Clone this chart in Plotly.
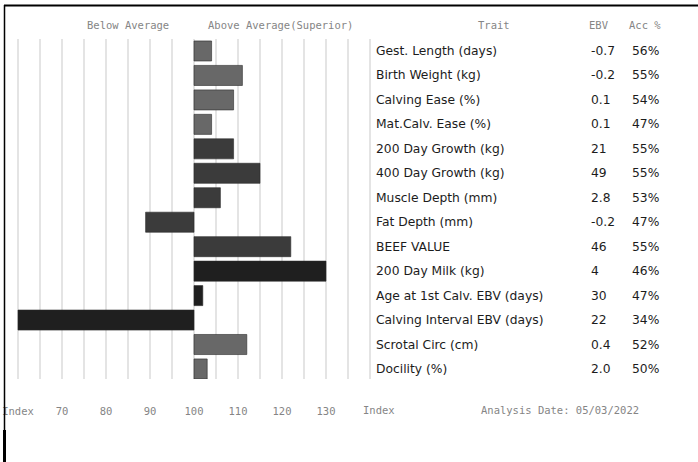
import plotly.graph_objects as go

# ---------------- data ----------------
traits = ["Gest. Length (days)", "Birth Weight (kg)", "Calving Ease (%)", "Mat.Calv. Ease (%)",
          "200 Day Growth (kg)", "400 Day Growth (kg)", "Muscle Depth (mm)", "Fat Depth (mm)",
          "BEEF VALUE", "200 Day Milk (kg)", "Age at 1st Calv. EBV (days)",
          "Calving Interval EBV (days)", "Scrotal Circ (cm)", "Docility (%)"]
index_values = [104, 111, 109, 104, 109, 115, 106, 89, 122, 130, 102, 60, 112, 103]
ebv = ["-0.7", "-0.2", "0.1", "0.1", "21", "49", "2.8", "-0.2", "46", "4", "30", "22", "0.4", "2.0"]
acc = ["56%", "55%", "54%", "47%", "55%", "55%", "53%", "47%", "55%", "46%", "47%", "34%", "52%", "50%"]
trait_group = ["calving", "calving", "calving", "calving",
               "growth", "growth", "growth", "growth", "growth",
               "maternal", "maternal", "maternal",
               "other", "other"]
tick_vals = [60, 70, 80, 90, 100, 110, 120, 130]
tick_text = ["Index", "70", "80", "90", "100", "110", "120", "130"]
analysis_date = "Analysis Date: 05/03/2022"

# ---------------- styling ----------------
W, H = 698, 462
TOP, BOTTOM = 39, 379          # plot area in pixels
group_colors = {"calving": "#686868", "growth": "#3b3b3b", "maternal": "#1f1f1f", "other": "#686868"}
bar_colors = [group_colors[g] for g in trait_group]

def px_x(p):
    return p / W

def px_y(p):
    return (BOTTOM - p) / (BOTTOM - TOP)

# full x range so that 100 sits at ~194px and 5 index units = 22px
ppu = 4.4
x0 = 100 - 194 / ppu
x1 = 100 + (W - 194) / ppu

fig = go.Figure()
fig.add_trace(go.Bar(
    y=traits,
    x=[v - 100 for v in index_values],
    base=100,
    orientation="h",
    marker=dict(color=bar_colors, line=dict(color="#2a2a2a", width=0.6)),
    hoverinfo="skip",
))

grid_vals = list(range(60, 141, 5))
grid_text = []
for g in grid_vals:
    grid_text.append(tick_text[tick_vals.index(g)] if g in tick_vals else "")

header_font = dict(family="DejaVu Sans Mono", size=10.5, color="#858585")
row_font = dict(family="DejaVu Sans", size=12.3, color="#1c1c1c")

fig.update_layout(
    width=W, height=H,
    margin=dict(l=0, r=0, t=TOP, b=H - BOTTOM, pad=0),
    plot_bgcolor="white", paper_bgcolor="white",
    showlegend=False,
    bargap=0.18,
    xaxis=dict(range=[x0, x1], tickvals=grid_vals, ticktext=grid_text,
               showgrid=True, gridcolor="#e4e4e4", gridwidth=1.6,
               zeroline=False, showline=False, ticks="",
               ticklabelstandoff=24,
               tickfont=header_font),
    yaxis=dict(categoryorder="array", categoryarray=traits,
               range=[13.41, -0.49], showticklabels=False, showgrid=False,
               zeroline=False, showline=False),
)

ann = []
ann.append(dict(x=px_x(128), y=px_y(25), xref="paper", yref="paper", text="Below Average",
                showarrow=False, font=header_font, xanchor="center", yanchor="middle"))
ann.append(dict(x=px_x(280), y=px_y(25), xref="paper", yref="paper", text="Above Average(Superior)",
                showarrow=False, font=header_font, xanchor="center", yanchor="middle"))
ann.append(dict(x=px_x(494), y=px_y(25), xref="paper", yref="paper", text="Trait",
                showarrow=False, font=header_font, xanchor="center", yanchor="middle"))
ann.append(dict(x=px_x(587), y=px_y(25), xref="paper", yref="paper", text="EBV",
                showarrow=False, font=header_font, xanchor="left", yanchor="middle"))
ann.append(dict(x=px_x(627), y=px_y(25), xref="paper", yref="paper", text="Acc %",
                showarrow=False, font=header_font, xanchor="left", yanchor="middle"))
for t, e, a in zip(traits, ebv, acc):
    ann.append(dict(x=px_x(374), y=t, xref="paper", yref="y", text=t, showarrow=False,
                    font=row_font, xanchor="left", yanchor="middle"))
    ann.append(dict(x=px_x(589), y=t, xref="paper", yref="y", text=e, showarrow=False,
                    font=row_font, xanchor="left", yanchor="middle"))
    ann.append(dict(x=px_x(630), y=t, xref="paper", yref="y", text=a, showarrow=False,
                    font=row_font, xanchor="left", yanchor="middle"))
ann.append(dict(x=px_x(379), y=px_y(410), xref="paper", yref="paper", text="Index",
                showarrow=False, font=header_font, xanchor="center", yanchor="middle"))
ann.append(dict(x=px_x(560), y=px_y(410), xref="paper", yref="paper", text=analysis_date,
                showarrow=False, font=header_font, xanchor="center", yanchor="middle"))
fig.update_layout(annotations=ann)

shapes = [
    dict(type="line", xref="paper", yref="paper", x0=px_x(4), x1=px_x(W), y0=px_y(5.5), y1=px_y(5.5),
         line=dict(color="black", width=2)),
    dict(type="line", xref="paper", yref="paper", x0=px_x(4.5), x1=px_x(4.5), y0=px_y(5), y1=px_y(430),
         line=dict(color="black", width=1.5)),
    dict(type="line", xref="paper", yref="paper", x0=px_x(4.5), x1=px_x(4.5), y0=px_y(430), y1=px_y(H),
         line=dict(color="black", width=3)),
]
fig.update_layout(shapes=shapes)

fig.write_html("out.html",
               config={"displayModeBar": False},
               post_script="document.body.style.margin='0';document.body.style.padding='0';")
